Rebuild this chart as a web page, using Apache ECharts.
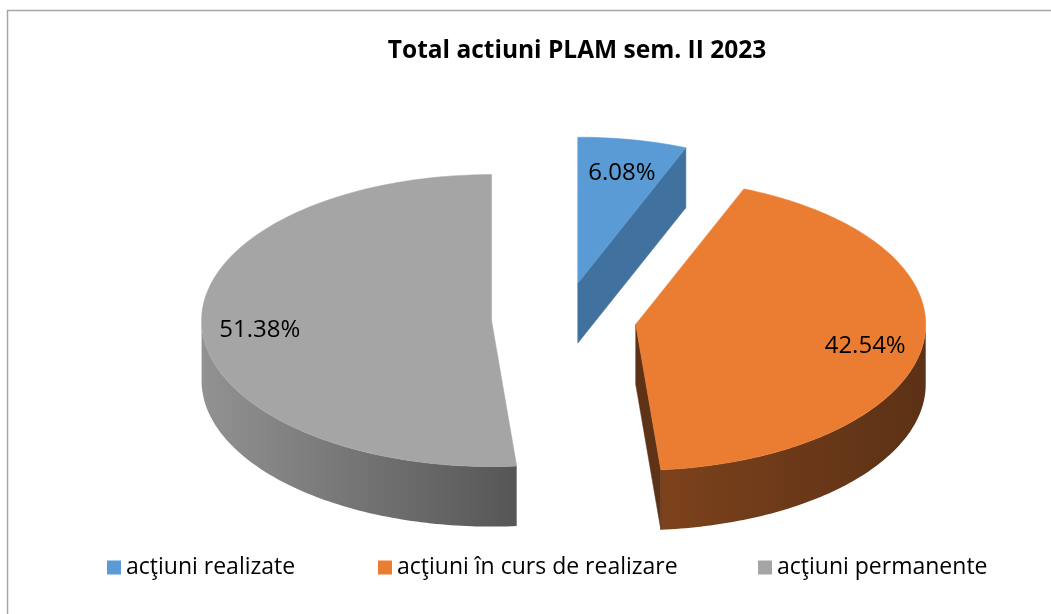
<!DOCTYPE html>
<html><head><meta charset="utf-8">
<script src="https://cdn.jsdelivr.net/npm/echarts@6/dist/echarts.min.js"></script>
<style>html,body{margin:0;padding:0;background:#fff}#c{width:1051px;height:614px}</style>
</head><body><div id="c"></div>
<script>
// ---- data ----
const chartTitle = 'Total actiuni PLAM sem. II 2023';
const categories = ['acţiuni realizate', 'acţiuni în curs de realizare', 'acţiuni permanente'];
const values = [6.08, 42.54, 51.38];
const valueLabels = ['6.08%', '42.54%', '51.38%'];

// ---- styles ----
const topColors = ['#5B9BD5', '#EB7D33', '#A5A5A5'];
const wallColors = [['#41719C', '#41719C'], ['#7C421C', '#5C3115'], ['#929292', '#565656']];
const radialWallColors = ['#41729F', '#5E3216', '#6a6a6a'];
const legendLeft = [102, 373, 753];

// ---- geometry ----
const P = [564, 319], RX = 290, RY = 146, DEPTH = 60, EXPLODE = 0.25, LABEL_R = 0.8;
const FONT = '"Open Sans", sans-serif';

const total = values.reduce((s, v) => s + v, 0);
const starts = values.map((v, i) => values.slice(0, i).reduce((s, x) => s + x, 0));

function pt(c, a, r) {
  const t = a * Math.PI / 180;
  return [c[0] + r * RX * Math.sin(t), c[1] - r * RY * Math.cos(t)];
}
function down(p) { return [p[0], p[1] + DEPTH]; }
function arc(c, from, to) {
  const pts = [];
  const n = Math.max(2, Math.ceil(Math.abs(to - from)));
  for (let k = 0; k <= n; k++) pts.push(pt(c, from + (to - from) * k / n, 1));
  return pts;
}

function makeRender(i) {
  return function (params, api) {
    const v = api.value(0);
    const a0 = starts[i] / total * 360;
    const a1 = a0 + v / total * 360;
    const m = (a0 + a1) / 2;
    const c = pt(P, m, EXPLODE);
    const children = [];
    const w0 = Math.max(a0, 90), w1 = Math.min(a1, 270);
    if (w1 > w0) {
      const topArc = arc(c, w0, w1);
      const pts = topArc.concat(topArc.slice().reverse().map(down));
      children.push({
        type: 'polygon', shape: { points: pts },
        style: { fill: new echarts.graphic.LinearGradient(0, 0, 1, 0, [
          { offset: 0, color: wallColors[i][0] }, { offset: 1, color: wallColors[i][1] }]),
          stroke: null }
      });
    }
    const radial = [];
    if (Math.sin(a1 * Math.PI / 180) > 0.001) radial.push(a1);
    if (Math.sin(a0 * Math.PI / 180) < -0.001) radial.push(a0);
    radial.forEach(a => {
      const r = pt(c, a, 1);
      children.push({
        type: 'polygon', shape: { points: [c, r, down(r), down(c)] },
        style: { fill: radialWallColors[i], stroke: radialWallColors[i], lineWidth: 0.5 }
      });
    });
    children.push({
      type: 'polygon', shape: { points: [c].concat(arc(c, a0, a1)) },
      style: { fill: topColors[i], stroke: topColors[i], lineWidth: 0.5 }
    });
    const lp = pt(c, m, LABEL_R);
    children.push({
      type: 'text', x: lp[0], y: lp[1] + 5,
      style: { text: valueLabels[i], fill: '#000', font: '24px ' + FONT, align: 'center', verticalAlign: 'middle' }
    });
    return { type: 'group', children };
  };
}

const chart = echarts.init(document.getElementById('c'), null, { renderer: 'canvas' });
chart.setOption({
  animation: false,
  backgroundColor: '#fff',
  title: {
    text: chartTitle, left: 572, top: 34, textAlign: 'center',
    textStyle: { fontFamily: FONT, fontWeight: 'bold', fontSize: 24.5, color: '#000' }
  },
  legend: categories.map((name, i) => ({
    data: [name], left: legendLeft[i], top: 551, icon: 'rect', itemWidth: 14, itemHeight: 14,
    itemGap: 0, selectedMode: false,
    textStyle: { fontFamily: FONT, fontSize: 23, color: '#000', padding: [0, 0, 0, 0] }
  })),
  graphic: [{
    type: 'rect', shape: { x: 7.5, y: 10.5, width: 1100, height: 700 },
    style: { fill: null, stroke: '#a6a6a6', lineWidth: 1.5 }, silent: true
  }],
  series: categories.map((name, i) => ({
    type: 'custom', name, coordinateSystem: 'none', silent: true,
    itemStyle: { color: topColors[i] },
    data: [[values[i]]],
    renderItem: makeRender(i)
  }))
});
</script></body></html>
